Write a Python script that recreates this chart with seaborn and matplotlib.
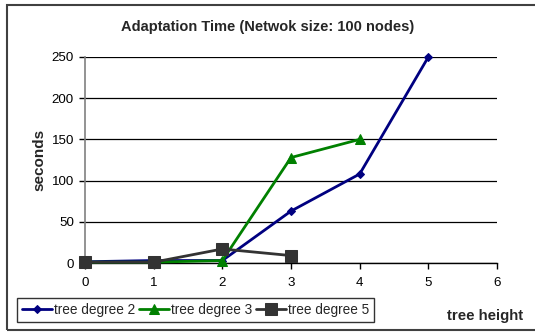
import pandas as pd
import matplotlib.pyplot as plt
import seaborn as sns
from matplotlib.patches import Rectangle

# values
tree_height = [0, 1, 2, 3, 4, 5]
degree2 = [1.5, 3, 3, 63, 108, 250]
degree3 = [1, 1, 3, 128, 150]
degree5 = [1, 1, 17, 9]
x_ticks = [0, 1, 2, 3, 4, 5, 6]
y_ticks = [0, 50, 100, 150, 200, 250]


def run_plot():
    sns.set_theme(style="white")
    plt.rcParams['font.family'] = ['Liberation Sans', 'DejaVu Sans']

    fig = plt.figure(figsize=(5.35, 3.33), dpi=100)
    ax = fig.add_axes([85 / 535, 1 - 263 / 333, 412 / 535, 206 / 333])

    series = [
        ("tree degree 2", degree2, "#000080", "D", 4.5),
        ("tree degree 3", degree3, "#008000", "^", 7),
        ("tree degree 5", degree5, "#333333", "s", 9),
    ]
    for name, vals, color, marker, ms in series:
        df = pd.DataFrame({"height": tree_height[:len(vals)], "seconds": vals})
        sns.lineplot(data=df, x="height", y="seconds", ax=ax, color=color,
                     marker=marker, markersize=ms, markeredgecolor=color,
                     linewidth=2, label=name, clip_on=False, zorder=3)

    ax.set_xlim(0, 6)
    ax.set_ylim(0, 250)
    ax.set_xticks(x_ticks)
    ax.set_yticks(y_ticks)
    ax.tick_params(axis="both", labelsize=9.6, colors="black", length=4,
                   width=1, direction="out", pad=4)
    ax.tick_params(axis="x", bottom=True, pad=6)
    ax.tick_params(axis="y", left=True)
    ax.yaxis.grid(True, color="black", linewidth=0.9)
    ax.set_axisbelow(True)
    for side in ["top", "right"]:
        ax.spines[side].set_visible(False)
    ax.spines["left"].set_color("#808080")
    ax.spines["left"].set_linewidth(1.2)
    ax.spines["bottom"].set_color("black")
    ax.spines["bottom"].set_linewidth(1)

    ax.set_xlabel("")
    ax.set_ylabel("seconds", fontsize=11, fontweight="bold", labelpad=3.5)
    fig.text(0.5, 1 - 27 / 333, "Adaptation Time (Netwok size: 100 nodes)",
             ha="center", va="center", fontsize=10.5, fontweight="bold")
    fig.text(523 / 535, 1 - 316 / 333, "tree height", ha="right", va="center",
             fontsize=10.8, fontweight="bold")

    ax.get_legend().remove()
    handles, labels = ax.get_legend_handles_labels()
    leg = fig.legend(handles, labels, ncol=3, loc="lower left",
                     bbox_to_anchor=(17 / 535, 1 - 322 / 333), fontsize=9.8,
                     frameon=True, fancybox=False, handlelength=2.2,
                     handletextpad=0.15, columnspacing=0.3, borderpad=0.35,
                     borderaxespad=0)
    leg.get_frame().set_edgecolor("black")
    leg.get_frame().set_linewidth(1)

    # outer chart border
    fig.patches.append(Rectangle((7 / 535, 1 - 330 / 333), 1.0, 325 / 333,
                                 transform=fig.transFigure, fill=False,
                                 edgecolor="#404040", linewidth=1.5))

    fig.savefig("out.png", dpi=100)
    plt.close(fig)


if __name__ == "__main__":
    run_plot()
